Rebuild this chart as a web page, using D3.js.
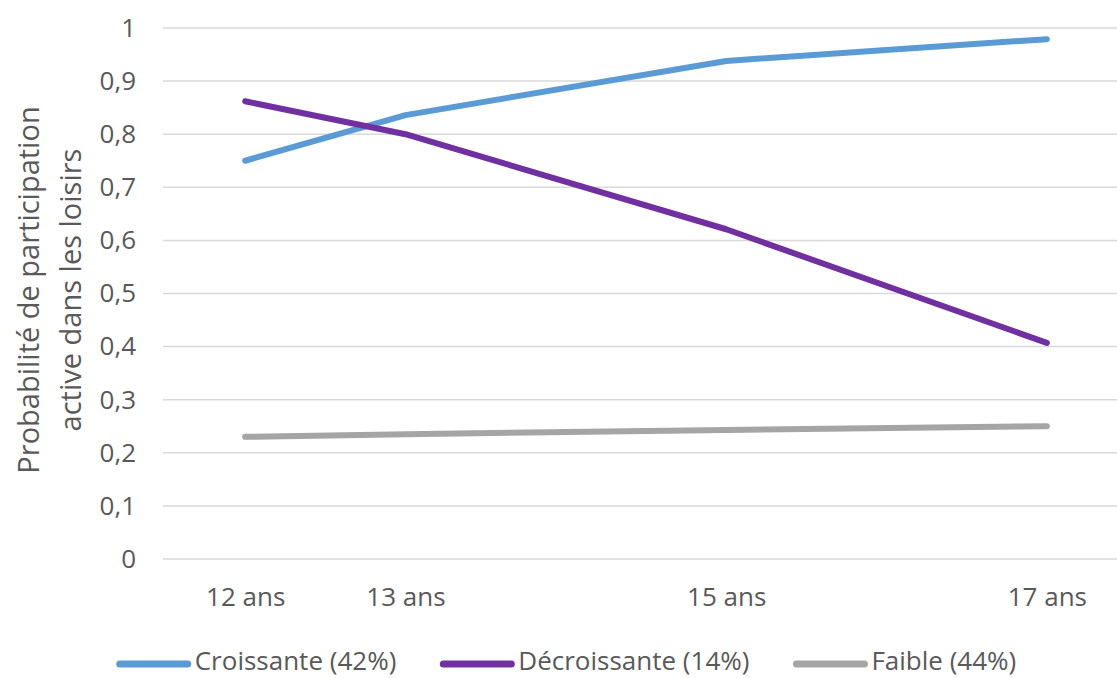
<!DOCTYPE html>
<html>
<head>
<meta charset="utf-8">
<script src="https://cdn.jsdelivr.net/npm/d3@7"></script>
<style>
  html, body { margin: 0; padding: 0; background: #fff; }
  svg { display: block; font-family: "Open Sans", sans-serif; }
</style>
</head>
<body>
<svg id="chart" width="1117" height="678"></svg>
<script>
// Ages (years) and their axis labels
const ages = [12, 13, 15, 17];
const ageLabels = ["12 ans", "13 ans", "15 ans", "17 ans"];

// Probability of active leisure participation per trajectory group
const croissante = [0.75, 0.836, 0.938, 0.979];
const decroissante = [0.862, 0.80, 0.621, 0.407];
const faible = [0.23, 0.235, 0.243, 0.25];

const seriesNames = ["Croissante (42%)", "Décroissante (14%)", "Faible (44%)"];
const seriesColors = ["#5B9BD5", "#7030A0", "#A5A5A5"];

const yTicks = [0, 0.1, 0.2, 0.3, 0.4, 0.5, 0.6, 0.7, 0.8, 0.9, 1];

const W = 1117, H = 678;
const svg = d3.select("#chart");

const x = d3.scaleLinear().domain([11.5, 17.5]).range([165, 1127]);
const y = d3.scaleLinear().domain([0, 1]).range([559, 28]);

// Horizontal gridlines
svg.append("g")
  .selectAll("line")
  .data(yTicks)
  .join("line")
  .attr("x1", 163)
  .attr("x2", W)
  .attr("y1", d => y(d))
  .attr("y2", d => y(d))
  .attr("stroke", "#D9D9D9")
  .attr("stroke-width", 1.5);

// Y axis labels
const fmt = d => d === 0 ? "0" : d === 1 ? "1" : d3.format(".1f")(d).replace(".", ",");
const yAxis = d3.axisLeft(y).tickValues(yTicks).tickFormat(fmt).tickSize(0).tickPadding(0);
const gy = svg.append("g").attr("transform", "translate(136,0)").call(yAxis);
gy.select(".domain").remove();
gy.selectAll("text")
  .attr("fill", "#595959")
  .style("font-family", "'Open Sans', sans-serif")
  .style("font-size", "26px");

// X axis labels
const xAxis = d3.axisBottom(x).tickValues(ages).tickFormat((d, i) => ageLabels[i]).tickSize(0).tickPadding(0);
const gx = svg.append("g").attr("transform", "translate(0,588)").call(xAxis);
gx.select(".domain").remove();
gx.selectAll("text")
  .attr("fill", "#595959")
  .attr("dy", "0.71em")
  .style("font-family", "'Open Sans', sans-serif")
  .style("font-size", "26px");

// Y axis title (two lines, rotated)
const title = svg.append("text")
  .attr("transform", "translate(0,290) rotate(-90)")
  .attr("text-anchor", "middle")
  .attr("fill", "#595959")
  .style("font-size", "29px");
title.append("tspan").attr("x", 0).attr("y", 39).text("Probabilité de participation");
title.append("tspan").attr("x", 0).attr("y", 81).text("active dans les loisirs");

// Lines
const allSeries = [croissante, decroissante, faible];
const line = d3.line()
  .x((d, i) => x(ages[i]))
  .y(d => y(d));

svg.append("g")
  .selectAll("path")
  .data(allSeries)
  .join("path")
  .attr("d", d => line(d))
  .attr("fill", "none")
  .attr("stroke", (d, i) => seriesColors[i])
  .attr("stroke-width", 6)
  .attr("stroke-linecap", "round")
  .attr("stroke-linejoin", "round");

// Legend
const legend = svg.append("g").attr("transform", "translate(0,662)");
const swatchW = 68, textGap = 7, itemGap = 47;
const items = legend.selectAll("g")
  .data(seriesNames)
  .join("g");
items.append("line")
  .attr("x1", 0).attr("x2", swatchW)
  .attr("y1", 2).attr("y2", 2)
  .attr("stroke", (d, i) => seriesColors[i])
  .attr("stroke-width", 7)
  .attr("stroke-linecap", "round");
items.append("text")
  .attr("x", swatchW + textGap)
  .attr("dy", "0.3em")
  .attr("fill", "#595959")
  .style("font-size", "26px")
  .text(d => d);

let widths = [];
items.each(function () {
  widths.push(swatchW + textGap + this.querySelector("text").getComputedTextLength());
});
const total = d3.sum(widths) + itemGap * (widths.length - 1);
let cx = 568 - total / 2;
items.attr("transform", (d, i) => {
  const t = `translate(${cx},0)`;
  cx += widths[i] + itemGap;
  return t;
});
</script>
</body>
</html>
